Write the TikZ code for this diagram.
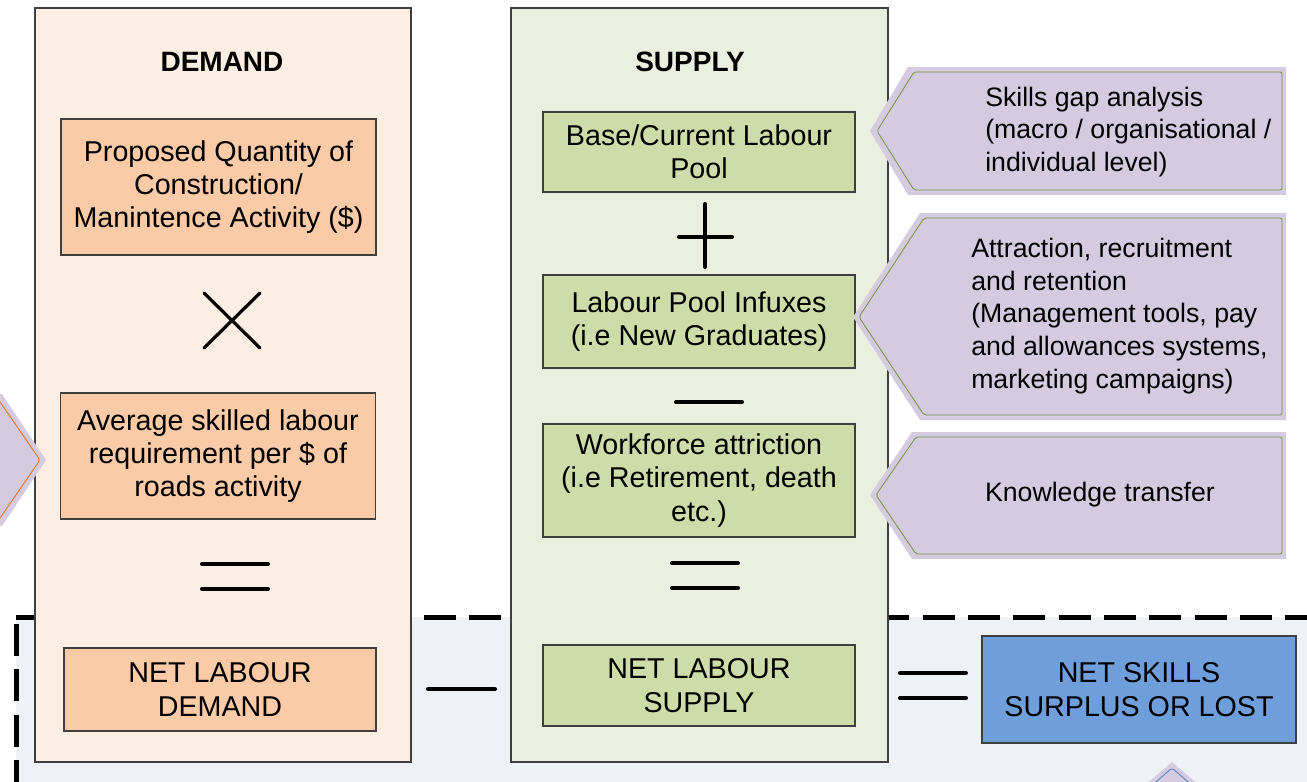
\documentclass[tikz,border=0pt]{standalone}
\usepackage{fontspec}
\setmainfont{Liberation Sans}
\definecolor{demandbg}{HTML}{FDEEE3}
\definecolor{demandbox}{HTML}{FBCAA6}
\definecolor{supplybg}{HTML}{EBEFDF}
\definecolor{supplybox}{HTML}{CDDCA8}
\definecolor{netbox}{HTML}{6F9FDA}
\definecolor{bandbg}{HTML}{EEF1F6}
\definecolor{lilac}{HTML}{D4CBE0}
\definecolor{edge}{HTML}{3F3F3F}
\definecolor{rimgreen}{HTML}{76923C}
\definecolor{rimorange}{HTML}{E46C0A}
\definecolor{rimblue}{HTML}{4F81BD}
\begin{document}
\begin{tikzpicture}[x=0.75pt,y=-0.75pt,
    txt/.style={font=\fontsize{20}{24.5}\selectfont, align=center, text=black},
    title/.style={font=\fontsize{21}{24}\selectfont\bfseries},
    column/.style={draw=edge, line width=1.1pt, inner sep=0pt, outer sep=0pt,
      minimum width=282pt, minimum height=565.5pt},
    box/.style={txt, font=\fontsize{21.5}{25}\selectfont, draw=edge, line width=1.1pt,
      inner sep=0pt, outer sep=0pt},
    dbox/.style={box, fill=demandbox, minimum width=236pt},
    sbox/.style={box, fill=supplybox, minimum width=234pt},
    note/.style={txt, align=left, anchor=west, inner sep=0pt},
    op/.style={line width=3pt, line cap=round},
    callout/.style={fill=lilac},
    rim/.style={draw=rimgreen, line width=0.6pt, rounded corners=1.5pt},
    band/.style={line width=3.75pt, dash pattern=on 24pt off 10pt}]
  \clip (0,0) rectangle (1307,782);
  \fill[white] (0,0) rectangle (1307,782);

  % shaded strip along the bottom
  \fill[bandbg] (16,617) rectangle (1320,800);
  \draw[band] (16,617) -- (1320,617);
  \draw[band] (16,624) -- (16,800);

  \node[column, fill=demandbg] (demandcol) at (223,385) {};
  \node[column, fill=supplybg, minimum width=282.75pt] (supplycol) at (699.5,385) {};

  \node[title] (demandtitle) at (222,62) {DEMAND};
  \node[title] (supplytitle) at (690,62) {SUPPLY};

  \node[dbox, minimum height=102pt] (quantity) at (218.5,187)
    {Proposed Quantity of\\Construction/\\Manintence Activity (\$)};
  \node[dbox, minimum height=94.5pt] (perdollar) at (218,456)
    {Average skilled labour\\requirement per \$ of\\roads activity};
  \node[dbox, minimum width=234pt, minimum height=62.25pt] (netdemand) at (220,689.5)
    {NET LABOUR\\DEMAND};

  \node[sbox, minimum height=60pt] (basepool) at (699,152)
    {Base/Current Labour\\Pool};
  \node[sbox, minimum height=69.75pt] (influx) at (699,321.5)
    {Labour Pool Infuxes\\(i.e New Graduates)};
  \node[sbox, minimum height=84.75pt] (attrition) at (699,480.5)
    {Workforce attriction\\(i.e Retirement, death\\etc.)};
  \node[sbox, minimum height=60.75pt] (netsupply) at (699,685.5)
    {NET LABOUR\\SUPPLY};

  \node[box, fill=netbox, minimum width=235.5pt, minimum height=80.25pt] (netskills) at (1139,689.5)
    {NET SKILLS\\SURPLUS OR LOST};

  % operators
  \draw[op, line width=2.4pt] (204,293) -- (260,348) (204,348) -- (260,293);
  \draw[op] (202,564) -- (268,564) (202,589) -- (268,589);
  \draw[op] (705,204) -- (705,267) (679,237) -- (732,237);
  \draw[op] (676,402) -- (742,402);
  \draw[op] (672,563) -- (738,563) (672,588) -- (738,588);
  \draw[op] (428,689) -- (495,689);
  \draw[op] (900,673) -- (966,673) (900,698) -- (966,698);

  % callouts
  \fill[callout] (870,131) -- (908,67) -- (1286,67) -- (1286,195) -- (908,195) -- cycle;
  \draw[rim] (877,131) -- (914,72) -- (1282,72) -- (1282,190) -- (914,190) -- cycle;
  \node[note] (gap) at (985,132)
    {Skills gap analysis\\(macro / organisational /\\individual level)};

  \fill[callout] (853,317) -- (920,213) -- (1286,213) -- (1286,420) -- (920,420) -- cycle;
  \draw[rim] (859,317) -- (924,218) -- (1282,218) -- (1282,415) -- (924,415) -- cycle;
  \node[note] (attraction) at (971,316)
    {Attraction, recruitment\\and retention\\(Management tools, pay\\and allowances systems,\\marketing campaigns)};

  \fill[callout] (870,495) -- (912,432) -- (1286,432) -- (1286,559) -- (912,559) -- cycle;
  \draw[rim] (876,495) -- (916,437) -- (1282,437) -- (1282,554) -- (916,554) -- cycle;
  \node[txt] (transfer) at (1100,495) {Knowledge transfer};

  \fill[callout] (-60,394) -- (2,394) -- (46,460) -- (2,526) -- (-60,526) -- cycle;
  \draw[rim, draw=rimorange] (-60,399) -- (-2,399) -- (40,460) -- (-2,521) -- (-60,521);

  \fill[callout] (1172,762) -- (1222,805) -- (1122,805) -- cycle;
  \draw[rim, draw=rimblue] (1128,806) -- (1172,768) -- (1216,806);
\end{tikzpicture}
\end{document}
